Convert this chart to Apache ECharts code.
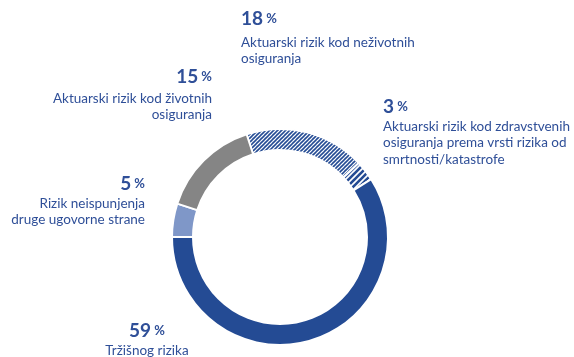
<!DOCTYPE html>
<html>
<head>
<meta charset="utf-8">
<script src="https://cdn.jsdelivr.net/npm/echarts@6/dist/echarts.min.js"></script>
<style>
  html, body { margin: 0; padding: 0; background: #ffffff; }
  #chart { width: 574px; height: 357px; }
</style>
</head>
<body>
<div id="chart"></div>
<script>
// Risk categories, clockwise from the top of the ring
const categories = [
  'Aktuarski rizik kod neživotnih osiguranja',
  'Aktuarski rizik kod zdravstvenih osiguranja prema vrsti rizika od smrtnosti/katastrofe',
  'Tržišnog rizika',
  'Rizik neispunjenja druge ugovorne strane',
  'Aktuarski rizik kod životnih osiguranja'
];
// Share of each category, in percent
const values = [18, 3, 59, 5, 15];
// How each category name wraps in its caption
const captionLines = [
  ['Aktuarski rizik kod neživotnih', 'osiguranja'],
  ['Aktuarski rizik kod zdravstvenih', 'osiguranja prema vrsti rizika od', 'smrtnosti/katastrofe'],
  ['Tržišnog rizika'],
  ['Rizik neispunjenja', 'druge ugovorne strane'],
  ['Aktuarski rizik kod životnih', 'osiguranja']
];

const BLUE = '#244b94';
const TEXT = '#2f4f98';

// Diagonal stripe fill built on a small tile
function stripes(size, width, color) {
  const c = document.createElement('canvas');
  c.width = size; c.height = size;
  const g = c.getContext('2d');
  g.fillStyle = '#ffffff';
  g.fillRect(0, 0, size, size);
  g.strokeStyle = color;
  g.lineWidth = width;
  g.lineCap = 'square';
  for (let k = -1; k <= 1; k++) {
    g.beginPath();
    g.moveTo(k * size, size);
    g.lineTo(k * size + size, 0);
    g.stroke();
  }
  return { image: c, repeat: 'repeat' };
}

const fills = [
  stripes(4, 1.6, BLUE),
  stripes(6, 2.6, BLUE),
  BLUE,
  '#7f97c8',
  '#858585'
];

// Caption placement: anchor x, alignment, number line y, first text line y
const captionPos = [
  { x: 241, align: 'left',   numY: 19,  textY: 42 },
  { x: 383, align: 'left',   numY: 107, textY: 126 },
  { x: 147, align: 'center', numY: 331, textY: 350 },
  { x: 145, align: 'right',  numY: 184, textY: 203 },
  { x: 212, align: 'right',  numY: 77,  textY: 98 }
];

const graphics = [];
values.forEach(function (v, i) {
  const p = captionPos[i];
  graphics.push({
    type: 'text',
    x: p.x, y: p.numY,
    style: {
      text: '{n|' + v + '}{p| %}',
      align: p.align,
      verticalAlign: 'middle',
      rich: {
        n: { font: 'bold 19px Lato', fill: TEXT },
        p: { font: 'bold 13px Lato', fill: TEXT }
      }
    }
  });
  graphics.push({
    type: 'text',
    x: p.x, y: p.textY - 8,
    style: {
      text: captionLines[i].join('\n'),
      align: p.align,
      verticalAlign: 'top',
      font: '13.5px Lato',
      lineHeight: 16.5,
      fill: TEXT
    }
  });
});

const chart = echarts.init(document.getElementById('chart'), null, { renderer: 'canvas' });
chart.setOption({
  animation: false,
  backgroundColor: '#ffffff',
  graphic: graphics,
  series: [{
    type: 'pie',
    center: [280, 237],
    radius: [87, 108],
    startAngle: 108,
    clockwise: true,
    label: { show: false },
    labelLine: { show: false },
    emphasis: { disabled: true },
    itemStyle: { borderColor: '#ffffff', borderWidth: 2 },
    data: values.map(function (v, i) {
      return { name: categories[i], value: v, itemStyle: { color: fills[i] } };
    })
  }]
});
</script>
</body>
</html>
